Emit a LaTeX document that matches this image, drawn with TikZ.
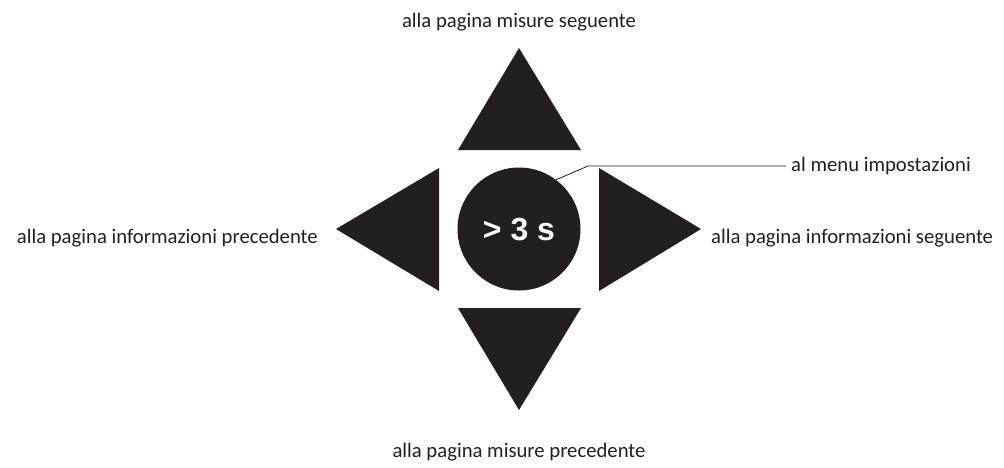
\documentclass[tikz,border=0pt]{standalone}
\usepackage{fontspec}
\setmainfont{Carlito}
\newfontfamily\keyfont{Liberation Sans}
\definecolor{ink}{HTML}{231F20}

\begin{document}
\begin{tikzpicture}[
		x=1pt, y=-1pt,
		key/.style={fill=ink},
		every node/.style={font=\fontsize{20.7}{24}\selectfont, text=ink, inner sep=0pt}
		]
		\useasboundingbox (0,0) rectangle (1004,467);
		% arrow keys
		\fill[key] (458,150) -- (519,48) -- (581,150) -- cycle;
		\fill[key] (458,308) -- (519,410) -- (581,308) -- cycle;
		\fill[key] (439,168) -- (336,229) -- (439,291) -- cycle;
		\fill[key] (599,168) -- (701,229) -- (599,291) -- cycle;
		% centre button
		\node[circle, fill=ink, minimum size=123pt, text=white,
			font=\keyfont\bfseries\fontsize{32}{36}\selectfont] (btn) at (519,229) {> 3 s};
		% labels
		\node (up) at (519,22) {alla pagina misure seguente};
		\node (down) at (519,452) {alla pagina misure precedente};
		\node[anchor=east] (left) at (318,238) {alla pagina informazioni precedente};
		\node[anchor=west] (right) at (711,238) {alla pagina informazioni seguente};
		\node[anchor=west] (menu) at (791,166) {al menu impostazioni};
		\coordinate (bend) at (588,166);
		\draw[ink, line width=0.8pt] (btn.53) -- (bend) -- ([xshift=-5pt]menu.west);
	\end{tikzpicture}
\end{document}
